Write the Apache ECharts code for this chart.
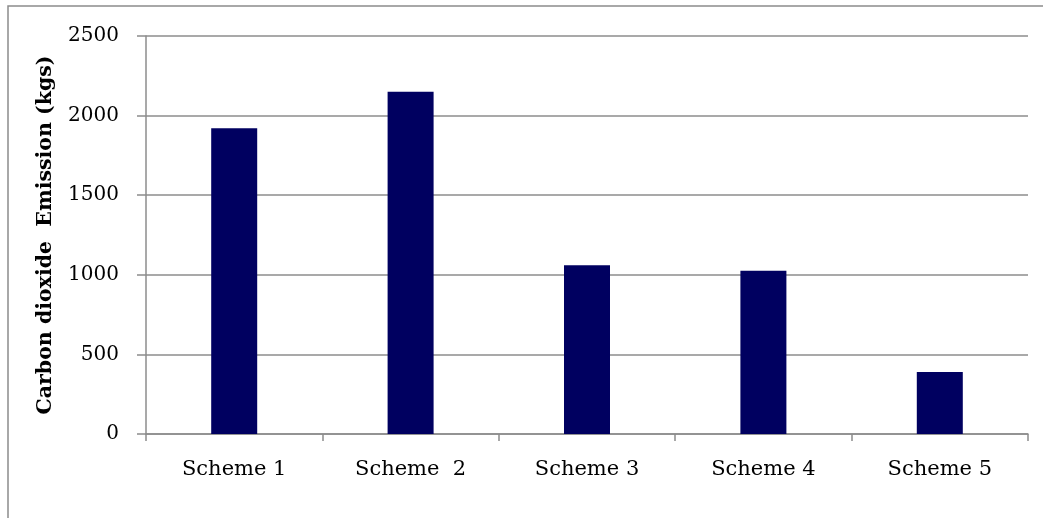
<!DOCTYPE html>
<html>
<head>
<meta charset="utf-8">
<script src="https://cdn.jsdelivr.net/npm/echarts@6/dist/echarts.min.js"></script>
<style>
html,body{margin:0;padding:0;background:#fff;}
#chart{width:1043px;height:518px;}
</style>
</head>
<body>
<div id="chart"></div>
<script>
var categories = ['Scheme 1', 'Scheme  2', 'Scheme 3', 'Scheme 4', 'Scheme 5'];
var emissions = [1920, 2150, 1060, 1025, 390];
var yTicks = [0, 500, 1000, 1500, 2000, 2500];
var yTitle = 'Carbon dioxide  Emission (kgs)';

var chart = echarts.init(document.getElementById('chart'), null, {renderer: 'canvas'});
var font = '"DejaVu Serif", "Liberation Serif", serif';
chart.setOption({
  animation: false,
  backgroundColor: '#ffffff',
  graphic: [{
    type: 'rect',
    shape: {x: 8, y: 6, width: 3000, height: 3000},
    style: {fill: 'none', stroke: '#8c8c8c', lineWidth: 1.5},
    silent: true
  }],
  grid: {left: 146, right: 15, top: 36, bottom: 84, containLabel: false},
  xAxis: {
    type: 'category',
    data: categories,
    axisLine: {show: true, lineStyle: {color: '#8c8c8c', width: 1.5}},
    axisTick: {show: true, length: 7, alignWithLabel: false, lineStyle: {color: '#8c8c8c', width: 1.5}},
    axisLabel: {color: '#000', fontFamily: font, fontSize: 21, margin: 25},
    splitLine: {show: false}
  },
  yAxis: {
    type: 'value',
    min: yTicks[0],
    max: yTicks[yTicks.length - 1],
    interval: 500,
    name: yTitle,
    nameLocation: 'middle',
    nameGap: 90,
    nameRotate: 90,
    nameTextStyle: {color: '#000', fontFamily: font, fontSize: 20.5, fontWeight: 'bold'},
    axisLine: {show: true, lineStyle: {color: '#8c8c8c', width: 1.5}},
    axisTick: {show: true, length: 9, lineStyle: {color: '#8c8c8c', width: 1.5}},
    axisLabel: {color: '#000', fontFamily: font, fontSize: 20, margin: 27,
      formatter: function (v) { return String(v); }},
    splitLine: {show: true, lineStyle: {color: '#8c8c8c', width: 1.5}}
  },
  series: [{
    type: 'bar',
    data: emissions,
    barWidth: 46,
    itemStyle: {color: '#000060'}
  }]
});
</script>
</body>
</html>
